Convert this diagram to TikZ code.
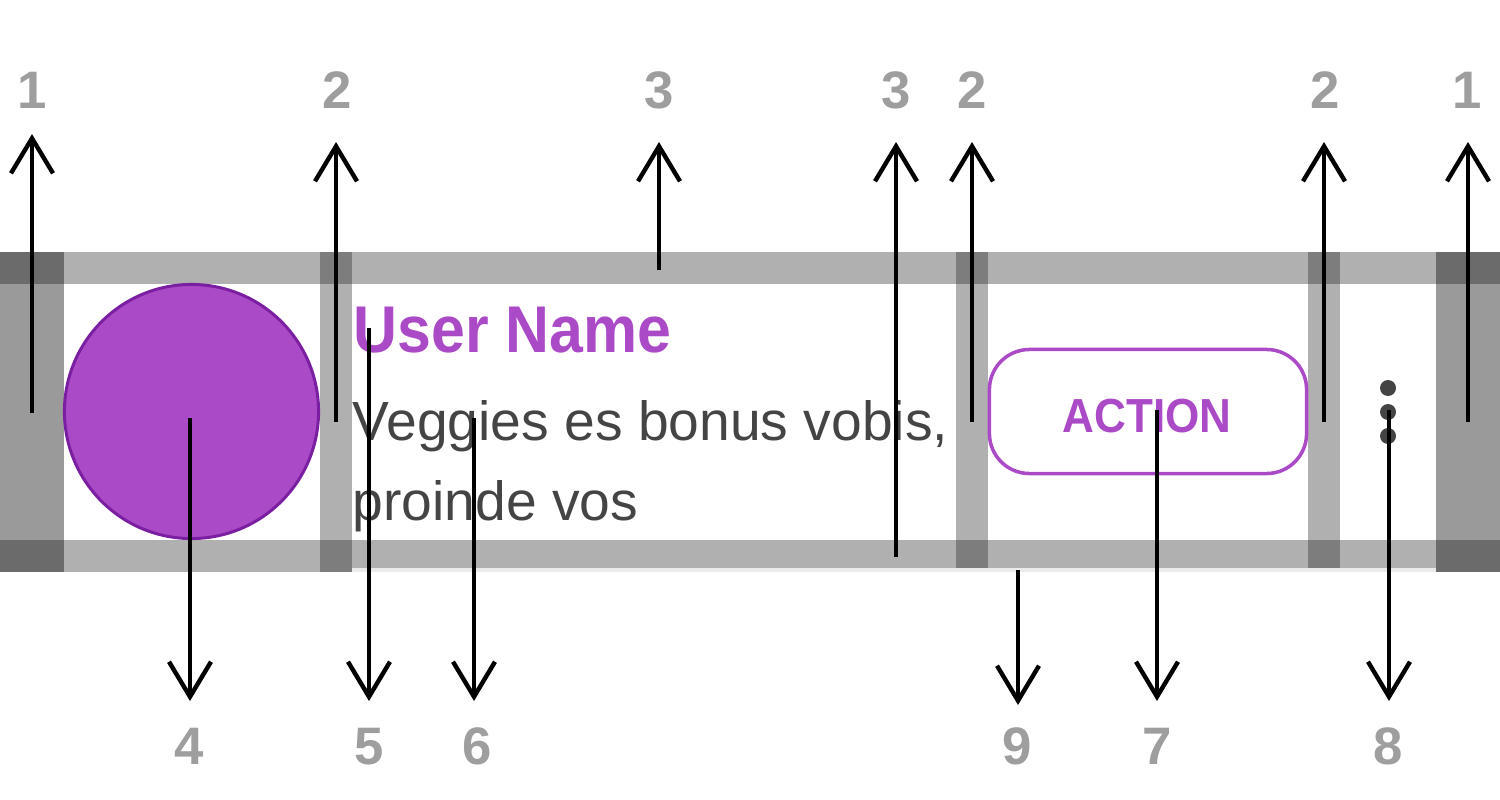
\documentclass[tikz,border=0pt]{standalone}
\usepackage{fontspec}
\setmainfont{Liberation Sans}
\newfontfamily\nbold{Liberation Sans Bold}[FakeStretch=0.92]
\newfontfamily\fbold{Liberation Sans Bold}
\usetikzlibrary{arrows.meta}
\definecolor{barlight}{HTML}{B0B0B0}
\definecolor{barmid}{HTML}{9A9A9A}
\definecolor{bardark}{HTML}{6B6B6B}
\definecolor{barcross}{HTML}{7D7D7D}
\definecolor{barfaint}{HTML}{EAEAEA}
\definecolor{purp}{HTML}{AB4AC7}
\definecolor{purpdark}{HTML}{7B1FA2}
\definecolor{textgray}{HTML}{444444}
\definecolor{numgray}{HTML}{9E9E9E}
\tikzset{
  arr/.style={line width=1.25pt, -{Straight Barb[length=0.35cm,width=0.42cm,line width=1.25pt]}},
  num/.style={font=\fbold\fontsize{15}{15}\selectfont, text=numgray, inner sep=0pt, anchor=base},
}
\begin{document}
\begin{tikzpicture}[x=0.01cm,y=-0.01cm]
\useasboundingbox (0,0) rectangle (1500,800);
% bars
\fill[barlight] (0,252) rectangle (1500,284);
\fill[barlight] (0,540) rectangle (352,572);
\fill[barlight] (352,540) rectangle (1436,568);
\fill[barfaint] (352,568) rectangle (1436,572);
\fill[barlight] (320,252) rectangle (352,572);
\fill[barlight] (956,252) rectangle (988,568);
\fill[barlight] (1308,252) rectangle (1340,568);
\fill[barmid] (0,252) rectangle (64,572);
\fill[barmid] (1436,252) rectangle (1500,572);
\fill[bardark] (0,252) rectangle (64,284);
\fill[bardark] (0,540) rectangle (64,572);
\fill[bardark] (1436,252) rectangle (1500,284);
\fill[bardark] (1436,540) rectangle (1500,572);
\fill[barcross] (320,252) rectangle (352,284);
\fill[barcross] (320,540) rectangle (352,572);
\fill[barcross] (956,252) rectangle (988,284);
\fill[barcross] (956,540) rectangle (988,568);
\fill[barcross] (1308,252) rectangle (1340,284);
\fill[barcross] (1308,540) rectangle (1340,568);
% avatar
\node[circle, fill=purp, draw=purpdark, line width=0.85pt, minimum size=2.54cm, inner sep=0pt] (avatar) at (191.5,411.5) {};
% texts
\node[anchor=base west, inner sep=0pt, text=purp, font=\nbold\fontsize{18.8}{18.8}\selectfont] (title) at (353,352) {User Name};
\node[anchor=base west, inner sep=0pt, text=textgray, font=\fontsize{15.7}{15.7}\selectfont] (body1) at (352,440) {Veggies es bonus vobis,};
\node[anchor=base west, inner sep=0pt, text=textgray, font=\fontsize{15.7}{15.7}\selectfont] (body2) at (352,520) {proinde vos};
% button
\node[draw=purp, line width=1pt, rounded corners=0.4cm, minimum width=3.17cm, minimum height=1.24cm, inner sep=0pt] (button) at (1148,411.5) {};
\node[anchor=base, inner sep=0pt, text=purp, font=\nbold\fontsize{13.6}{13.6}\selectfont] (action) at (1147,432) {ACTION};
% dots
\fill[textgray] (1388,388) circle (8);
\fill[textgray] (1388,412) circle (8);
\fill[textgray] (1388,436) circle (8);
% arrow coordinates
\coordinate (u1s) at (32,413);   \coordinate (u1e) at (32,134);
\coordinate (u2s) at (336,422);  \coordinate (u2e) at (336,142);
\coordinate (u3s) at (659,270);  \coordinate (u3e) at (659,142);
\coordinate (u4s) at (896,557);  \coordinate (u4e) at (896,142);
\coordinate (u5s) at (972,422);  \coordinate (u5e) at (972,142);
\coordinate (u6s) at (1324,422); \coordinate (u6e) at (1324,142);
\coordinate (u7s) at (1468,422); \coordinate (u7e) at (1468,142);
\coordinate (d4s) at (190,418);  \coordinate (d4e) at (190,701);
\coordinate (d5s) at (369,328);  \coordinate (d5e) at (369,701);
\coordinate (d6s) at (474,418);  \coordinate (d6e) at (474,701);
\coordinate (d9s) at (1018,570); \coordinate (d9e) at (1018,705);
\coordinate (d7s) at (1157,410); \coordinate (d7e) at (1157,701);
\coordinate (d8s) at (1389,410); \coordinate (d8e) at (1389,701);
\foreach \a in {u1,u2,u3,u4,u5,u6,u7,d4,d5,d6,d9,d7,d8} \draw[arr] (\a s) -- (\a e);
% labels
\node[num] (l1a) at (32,108) {1};
\node[num] (l2a) at (337,108) {2};
\node[num] (l3a) at (659,108) {3};
\node[num] (l3b) at (896,108) {3};
\node[num] (l2b) at (972,108) {2};
\node[num] (l2c) at (1325,108) {2};
\node[num] (l1b) at (1467,108) {1};
\node[num] (l4) at (189,764) {4};
\node[num] (l5) at (369,764) {5};
\node[num] (l6) at (477,764) {6};
\node[num] (l9) at (1017,764) {9};
\node[num] (l7) at (1157,764) {7};
\node[num] (l8) at (1388,764) {8};
\end{tikzpicture}
\end{document}
